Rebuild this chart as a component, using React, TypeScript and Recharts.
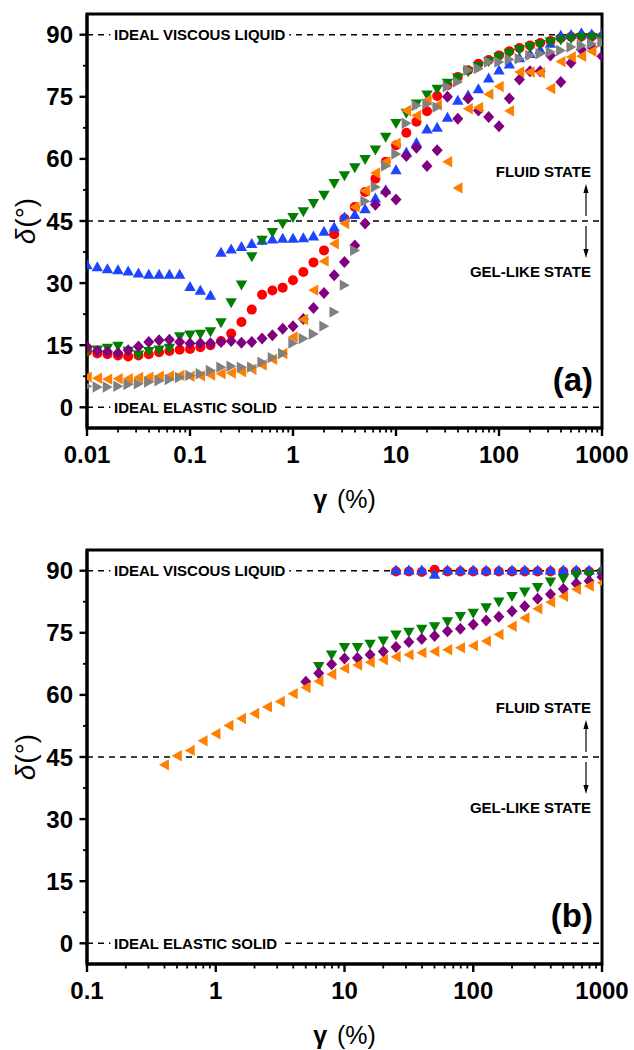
import { ScatterChart, Scatter, XAxis, YAxis, ReferenceLine, ReferenceArea } from 'recharts';

const FONT = '"Liberation Sans", Arial, Helvetica, sans-serif';

const colors = {
  red: '#ff0000',
  blue: '#1f44ff',
  green: '#007f00',
  purple: '#80007f',
  orange: '#ff8000',
  gray: '#808080',
};

// ---- panel (a): strain sweep, 10 points per decade ----
const strainA = [
  0.01, 0.0126, 0.0158, 0.02, 0.0251, 0.0316, 0.0398, 0.0501, 0.0631, 0.0794,
  0.1, 0.126, 0.158, 0.2, 0.251, 0.316, 0.398, 0.501, 0.631, 0.794,
  1, 1.26, 1.58, 2, 2.51, 3.16, 3.98, 5.01, 6.31, 7.94,
  10, 12.6, 15.8, 20, 25.1, 31.6, 39.8, 50.1, 63.1, 79.4,
  100, 126, 158, 200, 251, 316, 398, 501, 631, 794,
  1000,
];
const redA = [
  13.5, 13.0, 12.8, 12.5, 12.3, 12.5, 12.8, 13.3, 13.6, 13.9,
  14.1, 14.5, 15.0, 16.0, 17.8, 20.6, 23.6, 27.2, 28.2, 28.9,
  30.7, 32.7, 35.0, 37.9, 41.8, 45.6, 48.4, 52.0, 55.2, 59.3,
  63.3, 66.3, 69.0, 71.5, 75.2, 77.8, 79.8, 81.4, 83.0, 83.9,
  85.0, 86.0, 86.8, 87.4, 88.0, 88.5, 89.2, 89.5, 89.6, 89.6,
  89.5,
];
const blueA = [
  34.5, 34.0, 33.5, 33.3, 33.0, 32.5, 32.2, 32.2, 32.2, 32.2,
  29.2, 28.3, 27.1, 37.5, 38.3, 38.9, 39.6, 40.4, 40.7, 40.9,
  40.9, 41.0, 41.4, 42.6, 43.6, 46.0, 46.6, 48.0, 50.6, 52.6,
  57.4, 61.7, 64.0, 67.3, 67.7, 70.1, 74.2, 75.5, 77.0, 79.6,
  81.5, 83.0, 84.5, 85.5, 86.5, 88.0, 89.9, 90.1, 90.5, 90.2,
  90.2,
];
const greenA = [
  13.4, 13.8, 14.2, 14.7, 13.5, 12.6, 13.4, 13.8, 14.2, 17.0,
  17.4, 17.6, 18.2, 20.4, 25.2, 29.5, 36.3, 40.3, 42.2, 44.3,
  45.8, 47.2, 49.2, 51.2, 54.0, 55.9, 57.8, 59.8, 62.1, 65.2,
  68.5, 71.0, 73.2, 75.4, 76.8, 78.2, 79.5, 81.0, 82.3, 83.5,
  84.5, 85.5, 86.3, 87.0, 87.6, 88.2, 88.7, 89.0, 89.3, 89.3,
  89.0,
];
const purpleA = [
  14.6, 13.6, 13.4, 13.1, 13.8, 14.7, 15.8, 16.2, 16.3, 15.8,
  15.4, 15.5, 15.5, 15.8, 16.0, 15.6, 15.8, 16.6, 17.4, 19.0,
  19.6, 21.3, 24.0, 27.6, 31.9, 35.1, 39.1, 44.4, 48.9, 52.0,
  50.2, 60.7, 62.7, 58.3, 62.1, 75.0, 69.7, 74.6, 71.7, 70.1,
  67.9, 74.6, 79.2, 81.2, 81.2, 85.0, 78.6, 83.2, 86.4, 87.0,
  84.8,
];
const orangeA = [
  7.3, 7.0, 6.8, 6.9, 6.9, 7.2, 7.3, 7.5, 7.6, 7.7,
  7.5, 7.6, 7.8, 8.1, 8.3, 8.6, 9.2, 10.2, 11.6, 13.0,
  17.0, 21.2, 28.3, 35.3, 39.5, 44.4, 48.4, 52.3, 56.6, 59.3,
  63.8, 71.7, 70.5, 74.2, 73.0, 59.3, 53.0, 72.1, 72.4, 75.6,
  77.5, 71.6, 81.0, 81.0, 80.8, 77.0, 83.5, 84.6, 84.8, 86.0,
  87.8,
];
const grayA = [
  5.1, 4.9, 4.9, 5.1, 5.5, 5.7, 6.1, 6.4, 6.7, 7.2,
  7.7, 8.1, 8.9, 9.7, 9.9, 9.7, 9.7, 10.9, 12.0, 13.0,
  15.5, 16.6, 17.7, 19.6, 23.0, 29.5, 37.9, 49.8, 53.2, 58.3,
  61.2, 68.6, 72.9, 73.3, 72.5, 77.4, 78.6, 81.4, 81.8, 83.4,
  83.4, 84.0, 84.2, 85.0, 85.4, 85.8, 86.2, 87.0, 87.4, 87.8,
  88.2,
];

// ---- panel (b) ----
const strainB = [
  0.398, 0.501, 0.631, 0.794, 1, 1.26, 1.58, 2, 2.51, 3.16,
  3.98, 5.01, 6.31, 7.94, 10, 12.6, 15.8, 20, 25.1, 31.6,
  39.8, 50.1, 63.1, 79.4, 100, 126, 158, 200, 251, 316,
  398, 501, 631, 794, 1000,
];
const orangeB = [
  43.1, 45.3, 46.6, 48.9, 50.6, 52.6, 54.3, 55.5, 57.1, 58.4,
  60.3, 61.8, 63.3, 65.0, 66.4, 67.2, 67.9, 68.5, 69.2, 69.7,
  70.2, 70.5, 70.9, 71.4, 71.9, 73.0, 74.6, 76.6, 78.6, 80.8,
  82.4, 83.8, 85.5, 86.3, 87.1,
];
// these start later in the sweep (aligned to the end of strainB)
const purpleB = [
  63.2, 65.2, 67.4, 68.8, 68.9, 69.7, 70.5, 71.6, 72.8, 73.5,
  74.2, 75.4, 76.0, 77.0, 78.0, 78.9, 80.2, 81.4, 83.2, 84.3,
  85.6, 86.9, 87.5, 88.5,
];
const greenB = [
  66.8, 69.6, 71.4, 71.4, 72.2, 73.0, 74.4, 75.1, 75.8, 76.4,
  77.6, 78.9, 79.7, 81.0, 82.4, 83.7, 84.8, 85.9, 87.2, 88.0,
  88.8, 89.0, 89.3,
];
const redB = [
  89.8, 89.8, 89.7, 90.2, 89.8, 89.8, 89.8, 89.8, 89.8, 89.8,
  89.8, 89.8, 89.8, 89.8, 89.8, 89.8, 89.8,
];
const blueB = [
  90.2, 90.2, 90.2, 89.2, 90.2, 90.2, 90.2, 90.2, 90.2, 90.2,
  90.2, 90.2, 90.2, 90.2, 90.2, 90.2, 90.2,
];

// axis ticks
const yTicks = [0, 7.5, 15, 22.5, 30, 37.5, 45, 52.5, 60, 67.5, 75, 82.5, 90];
const yMajor = [0, 15, 30, 45, 60, 75, 90];
const xTicksA = [
  0.01, 0.02, 0.03, 0.04, 0.05, 0.06, 0.07, 0.08, 0.09,
  0.1, 0.2, 0.3, 0.4, 0.5, 0.6, 0.7, 0.8, 0.9,
  1, 2, 3, 4, 5, 6, 7, 8, 9,
  10, 20, 30, 40, 50, 60, 70, 80, 90,
  100, 200, 300, 400, 500, 600, 700, 800, 900,
  1000,
];
const xMajorA = [0.01, 0.1, 1, 10, 100, 1000];
const xTicksB = xTicksA.slice(9);
const xMajorB = [0.1, 1, 10, 100, 1000];

// align a (possibly shorter) value list to the tail of the strain list
const pts = (xs: number[], ys: number[]) =>
  ys.map((y, i) => ({ x: xs[xs.length - ys.length + i], y }));

type Kind = 'circle' | 'up' | 'down' | 'left' | 'right' | 'diamond';

function Marker({ cx, cy, kind, color }: { cx: number; cy: number; kind: Kind; color: string }) {
  if (cx == null || cy == null) return null;
  if (kind === 'circle') return <circle cx={cx} cy={cy} r={5} fill={color} />;
  let p = '';
  if (kind === 'up') p = `${cx},${cy - 5.3} ${cx + 5.7},${cy + 4.7} ${cx - 5.7},${cy + 4.7}`;
  if (kind === 'down') p = `${cx},${cy + 5.3} ${cx + 5.7},${cy - 4.7} ${cx - 5.7},${cy - 4.7}`;
  if (kind === 'left') p = `${cx - 5.3},${cy} ${cx + 4.7},${cy - 5.7} ${cx + 4.7},${cy + 5.7}`;
  if (kind === 'right') p = `${cx + 5.3},${cy} ${cx - 4.7},${cy - 5.7} ${cx - 4.7},${cy + 5.7}`;
  if (kind === 'diamond') p = `${cx},${cy - 6} ${cx + 5.5},${cy} ${cx},${cy + 6} ${cx - 5.5},${cy}`;
  return <polygon points={p} fill={color} />;
}

const shapeOf = (kind: Kind, color: string) => (props: any) =>
  <Marker cx={props.cx} cy={props.cy} kind={kind} color={color} />;

function XTick({ x, y, payload, majors }: any) {
  const v = payload.value;
  const major = majors.includes(v);
  return (
    <g>
      <line x1={x} x2={x} y1={y} y2={y + (major ? 8 : 4.5)} stroke="#000" strokeWidth={major ? 2.4 : 1.8} />
      {major && (
        <text x={x} y={y + 35} textAnchor="middle" fontSize={24} fontWeight="bold" fontFamily={FONT} fill="#000">
          {String(v)}
        </text>
      )}
    </g>
  );
}

function YTick({ x, y, payload }: any) {
  const v = payload.value;
  const major = yMajor.includes(v);
  return (
    <g>
      <line x1={x - (major ? 7.5 : 4)} x2={x} y1={y} y2={y} stroke="#000" strokeWidth={major ? 2.4 : 1.8} />
      {major && (
        <text x={x - 14} y={y + 8.5} textAnchor="end" fontSize={24} fontWeight="bold" fontFamily={FONT} fill="#000">
          {String(v)}
        </text>
      )}
    </g>
  );
}

function YTitle({ viewBox }: any) {
  const cx = viewBox.x + 28;
  const cy = viewBox.y + viewBox.height / 2;
  return (
    <text transform={`rotate(-90 ${cx} ${cy})`} x={cx} y={cy} dy={7} textAnchor="middle" fontSize={28} fontFamily={FONT} fill="#000">
      <tspan fontStyle="italic">δ</tspan>
      <tspan dx={1}>(°)</tspan>
    </text>
  );
}

function XTitle({ viewBox }: any) {
  return (
    <text x={viewBox.x + viewBox.width / 2} y={viewBox.y + 80} textAnchor="middle" fontSize={25} fontFamily={FONT} fill="#000">
      <tspan fontWeight="bold">γ</tspan>
      <tspan dx={3}> (%)</tspan>
    </text>
  );
}

const tagStyle = {
  fontSize: 15,
  fontWeight: 'bold' as const,
  fontFamily: FONT,
  fill: '#000',
};

function LineTag({ viewBox, text }: any) {
  return (
    <text
      x={viewBox.x + 27}
      y={viewBox.y}
      dy={5.4}
      {...tagStyle}
      stroke="#fff"
      strokeWidth={9}
      style={{ paintOrder: 'stroke' }}
    >
      {text}
    </text>
  );
}

function ElasticTag({ viewBox, tag }: any) {
  const right = viewBox.x + viewBox.width;
  return (
    <g>
      <LineTag viewBox={viewBox} text="IDEAL ELASTIC SOLID" />
      <text x={right - 9} y={viewBox.y - 16} textAnchor="end" fontSize={33} fontWeight="bold" fontFamily={FONT} fill="#000">
        {tag}
      </text>
    </g>
  );
}

function StateTags({ viewBox }: any) {
  const right = viewBox.x + viewBox.width;
  const y = viewBox.y;
  const ax = right - 16;
  return (
    <g>
      <text x={right - 11} y={y - 49 + 5.4} textAnchor="end" {...tagStyle}>FLUID STATE</text>
      <line x1={ax} x2={ax} y1={y - 5} y2={y - 29} stroke="#000" strokeWidth={1.2} />
      <polygon points={`${ax},${y - 37} ${ax - 2.6},${y - 28} ${ax + 2.6},${y - 28}`} fill="#000" />
      <line x1={ax} x2={ax} y1={y + 5} y2={y + 29} stroke="#000" strokeWidth={1.2} />
      <polygon points={`${ax},${y + 37} ${ax - 2.6},${y + 28} ${ax + 2.6},${y + 28}`} fill="#000" />
      <text x={right - 11} y={y + 51 + 5.4} textAnchor="end" {...tagStyle}>GEL-LIKE STATE</text>
    </g>
  );
}

interface Series {
  name: string;
  kind: Kind;
  color: string;
  data: { x: number; y: number }[];
}

interface PanelProps {
  top: number;
  height: number;
  xDomain: [number, number];
  xTicks: number[];
  xMajor: number[];
  series: Series[];
  tag: string;
}

function Panel({ top, height, xDomain, xTicks, xMajor, series, tag }: PanelProps) {
  const dash = { stroke: '#000', strokeDasharray: '6 5', strokeWidth: 1.6 };
  return (
    <div style={{ position: 'absolute', left: 0, top }}>
      <ScatterChart width={634} height={height} margin={{ top: 14, right: 32, bottom: 0, left: 0 }}>
        <XAxis
          type="number"
          dataKey="x"
          scale="log"
          domain={xDomain}
          allowDataOverflow
          ticks={xTicks}
          interval={0}
          tickSize={0}
          tickMargin={0}
          tickLine={false}
          axisLine={{ stroke: '#000', strokeWidth: 3 }}
          tick={<XTick majors={xMajor} />}
          height={height - 14 - 414}
          label={<XTitle />}
        />
        <YAxis
          type="number"
          dataKey="y"
          domain={[-5, 95]}
          allowDataOverflow
          ticks={yTicks}
          interval={0}
          width={87}
          tickSize={0}
          tickMargin={0}
          tickLine={false}
          axisLine={{ stroke: '#000', strokeWidth: 3 }}
          tick={<YTick />}
          label={<YTitle />}
        />
        <ReferenceArea x1={xDomain[0]} x2={xDomain[1]} y1={-5} y2={95} fill="none" stroke="#000" strokeWidth={3} fillOpacity={0} />
        <ReferenceLine y={90} {...dash} label={<LineTag text="IDEAL VISCOUS LIQUID" />} />
        <ReferenceLine y={45} {...dash} label={<StateTags />} />
        <ReferenceLine y={0} {...dash} label={<ElasticTag tag={tag} />} />
        {series.map((s) => (
          <Scatter key={s.name} name={s.name} data={s.data} shape={shapeOf(s.kind, s.color)} isAnimationActive={false} />
        ))}
      </ScatterChart>
    </div>
  );
}

const seriesA: Series[] = [
  { name: 'red', kind: 'circle', color: colors.red, data: pts(strainA, redA) },
  { name: 'blue', kind: 'up', color: colors.blue, data: pts(strainA, blueA) },
  { name: 'green', kind: 'down', color: colors.green, data: pts(strainA, greenA) },
  { name: 'purple', kind: 'diamond', color: colors.purple, data: pts(strainA, purpleA) },
  { name: 'orange', kind: 'left', color: colors.orange, data: pts(strainA, orangeA) },
  { name: 'gray', kind: 'right', color: colors.gray, data: pts(strainA, grayA) },
];

const seriesB: Series[] = [
  { name: 'red', kind: 'circle', color: colors.red, data: pts(strainB, redB) },
  { name: 'blue', kind: 'up', color: colors.blue, data: pts(strainB, blueB) },
  { name: 'green', kind: 'down', color: colors.green, data: pts(strainB, greenB) },
  { name: 'purple', kind: 'diamond', color: colors.purple, data: pts(strainB, purpleB) },
  { name: 'orange', kind: 'left', color: colors.orange, data: pts(strainB, orangeB) },
];

export default function App() {
  return (
    <div style={{ position: 'absolute', left: 0, top: 0, width: 634, height: 1050, background: '#fff', overflow: 'hidden' }}>
      <Panel top={0} height={525} xDomain={[0.01, 1000]} xTicks={xTicksA} xMajor={xMajorA} series={seriesA} tag="(a)" />
      <Panel top={536} height={514} xDomain={[0.1, 1000]} xTicks={xTicksB} xMajor={xMajorB} series={seriesB} tag="(b)" />
    </div>
  );
}
